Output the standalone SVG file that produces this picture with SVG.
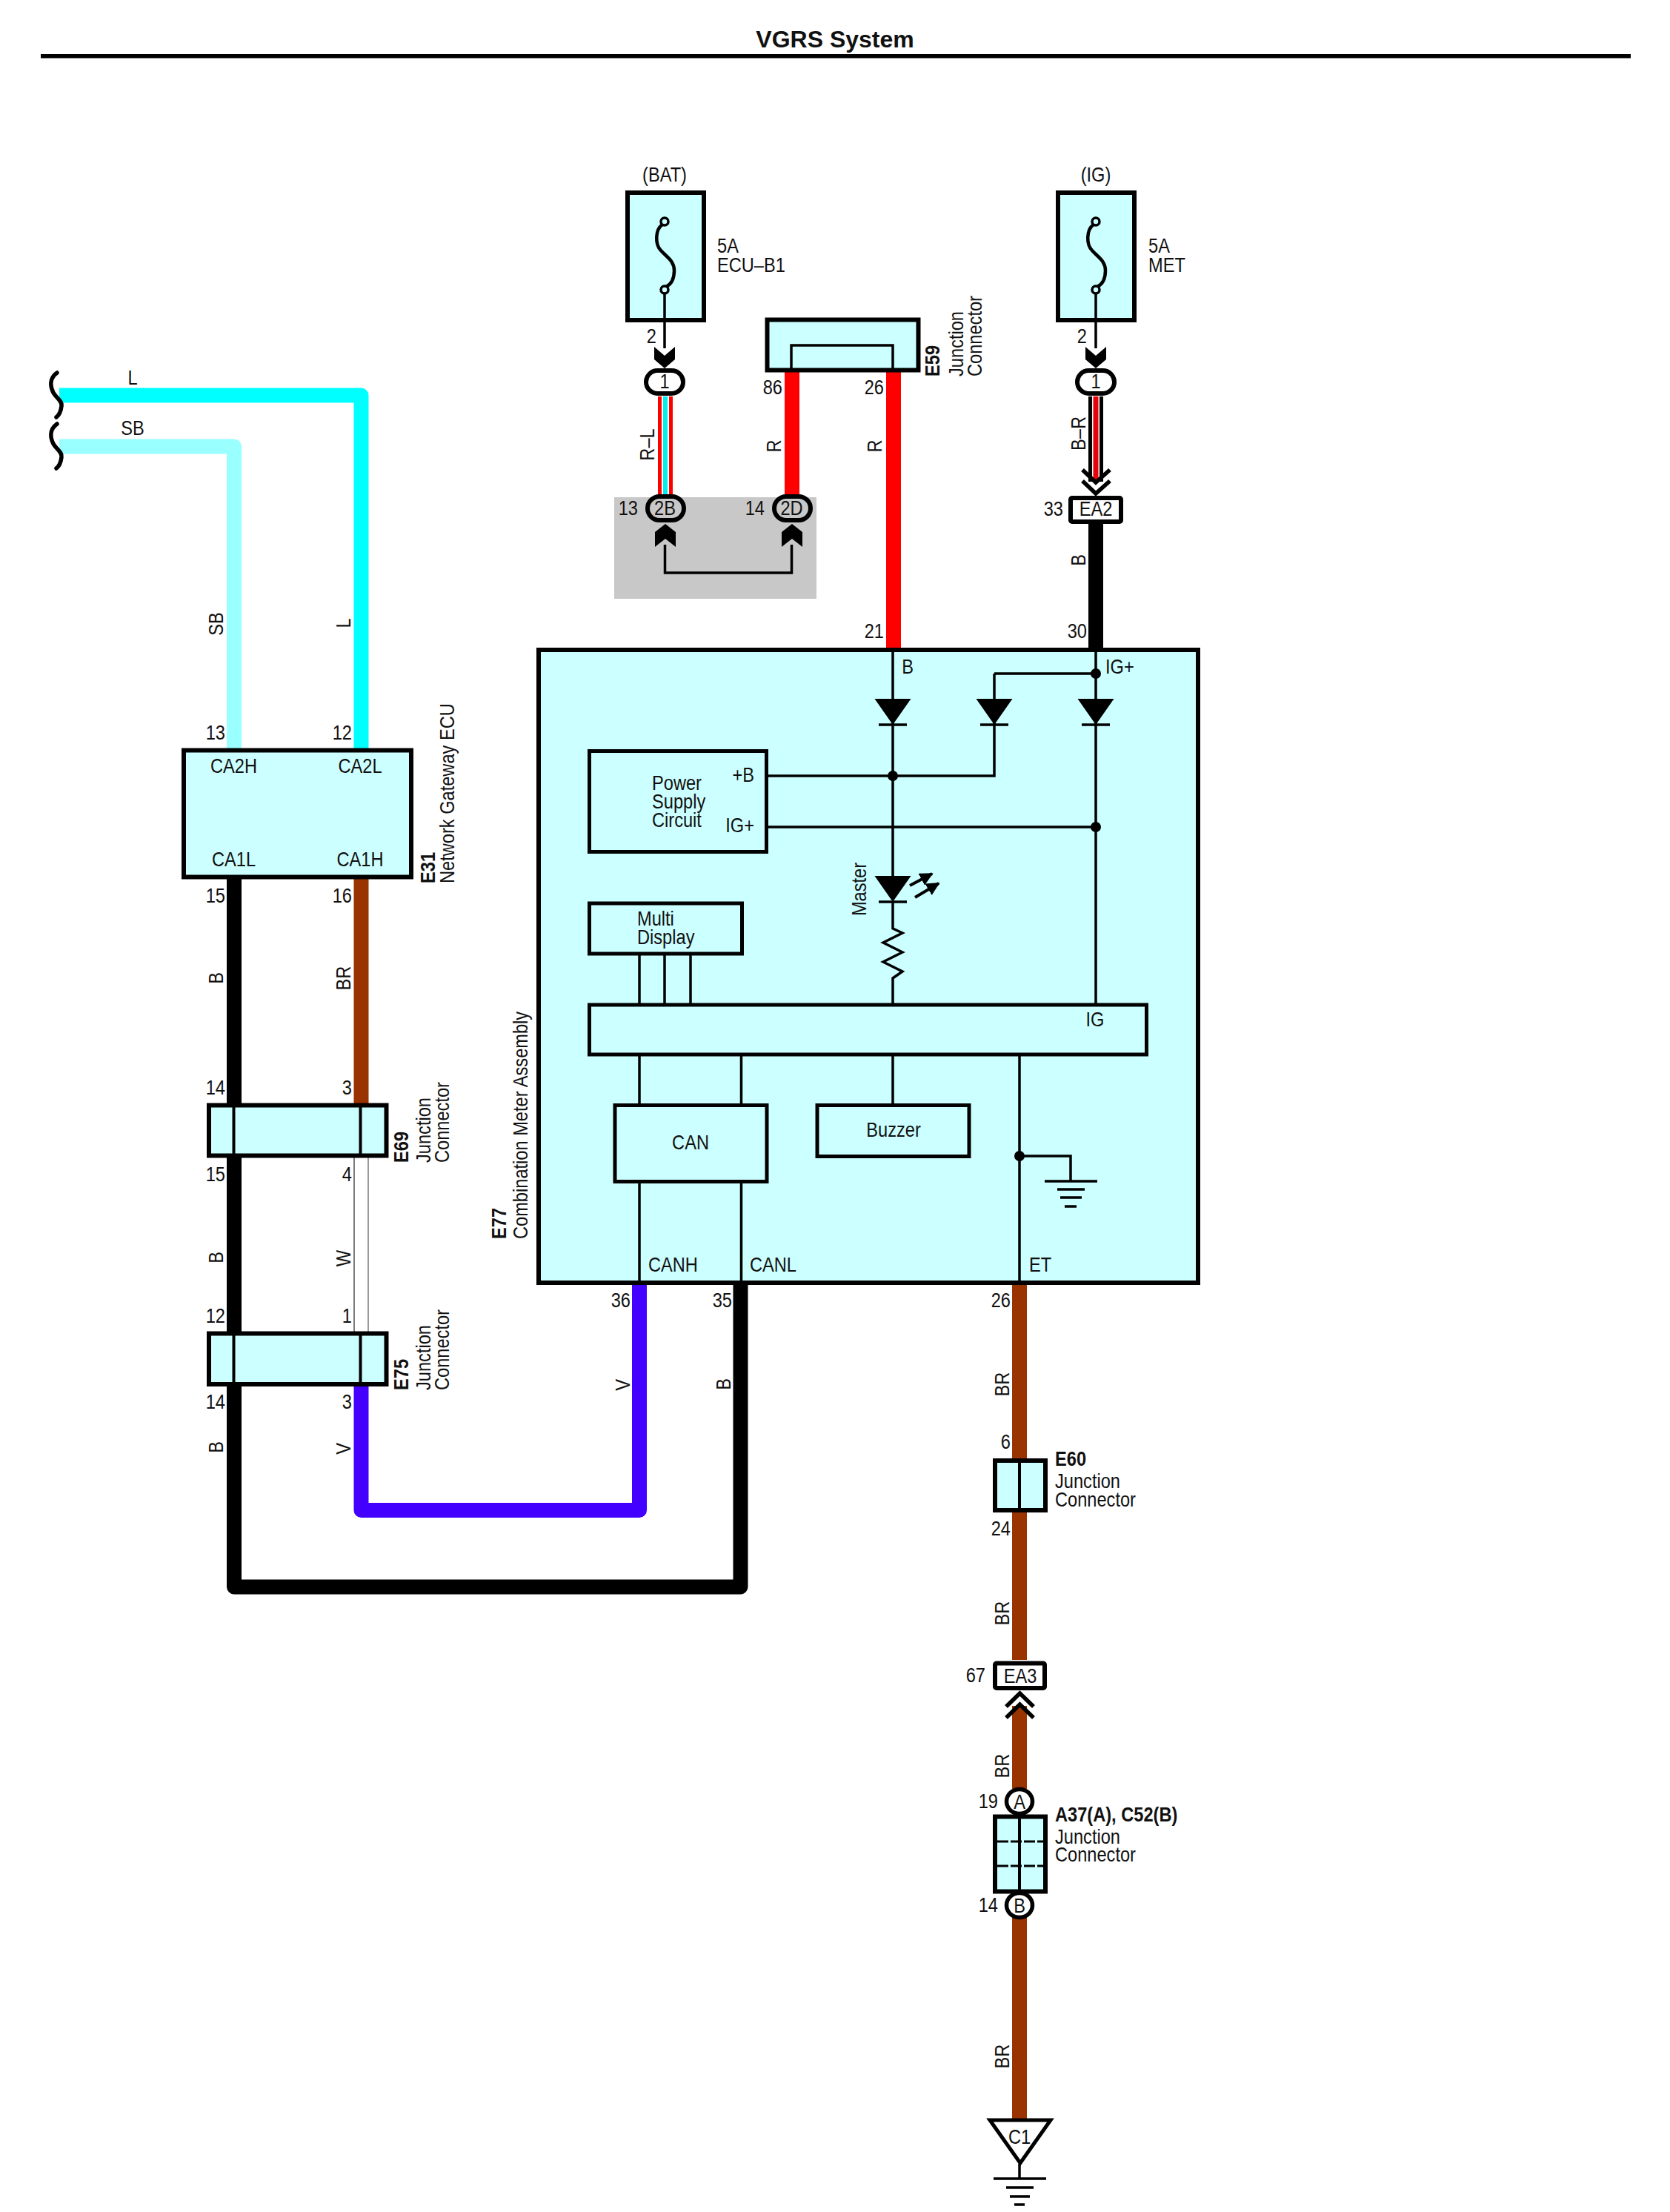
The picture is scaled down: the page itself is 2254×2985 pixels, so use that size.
<svg xmlns="http://www.w3.org/2000/svg" xmlns:xlink="http://www.w3.org/1999/xlink" width="2254" height="2985" viewBox="0 0 2254 2985">
<style>
text{font-family:"Liberation Sans",Arial,sans-serif;font-size:27px;fill:#111}
.b{font-weight:bold}
.m{text-anchor:middle}
.r{text-anchor:end}
.box{fill:#ccffff;stroke:#000;stroke-width:6}
.thin{fill:none;stroke:#000;stroke-width:3.5}
.w{fill:none;stroke-width:20;stroke-linejoin:round;stroke-linecap:butt}
.chev{fill:none;stroke:#000;stroke-width:5.5}
.dot{fill:#000}
</style>
<defs>
<g id="diode"><polygon points="-24.5,0 24.5,0 0,35" fill="#000"/><line x1="-19" y1="35" x2="19" y2="35" stroke="#000" stroke-width="3.5"/></g>
<path id="inhead" d="M-14 0L0 12L14 0V17L0 29L-14 17Z" fill="#000"/>
<path id="uphead" d="M-14 31L0 20L14 31V11L0 0L-14 11Z" fill="#000"/>
<g id="fuse">
<path d="M-3 4C-13 11-13 31-5 39C3 48 13 53 13 66C13 79 8 85 2 88" fill="none" stroke="#000" stroke-width="4.5"/>
<circle cx="0" cy="0" r="5" fill="#ccffff" stroke="#000" stroke-width="3.5"/>
<circle cx="0" cy="92" r="5" fill="#ccffff" stroke="#000" stroke-width="3.5"/>
</g>
<path id="brace" d="M77 503C66 511 68 522 72 530C77 538 84 541 83 548C82 556 80 560 76 563" fill="none" stroke="#000" stroke-width="5.5" stroke-linecap="round"/>
<marker id="ledhead" viewBox="0 0 10 10" refX="9" refY="5" markerWidth="4.5" markerHeight="4.5" orient="auto"><path d="M0 0L10 5L0 10Z" fill="#000"/></marker>
</defs>
<rect width="2254" height="2985" fill="#fff"/>

<g id="title">
<text class="b m" transform="translate(1127 64)" style="font-size:32px">VGRS System</text>
<rect x="55" y="73" width="2146" height="5.5" fill="#000"/>
</g>

<rect id="shade" x="829" y="671" width="273" height="137" fill="#c8c8c8"/>

<g id="connectors">
<path class="w" d="M80 533.5H487.5V1011" stroke="#00ffff"/>
<path class="w" d="M80 602.5H316V1011" stroke="#99ffff"/>
<path class="w" d="M316 1185V2141.5H999.5V1731" stroke="#000"/>
<path class="w" d="M487.5 1185V1491" stroke="#993300"/>
<line x1="478" y1="1560" x2="478" y2="1799" stroke="#222" stroke-width="1.2"/>
<line x1="497" y1="1560" x2="497" y2="1799" stroke="#777" stroke-width="1.5"/>
<path class="w" d="M487.5 1869V2038H863V1731" stroke="#4400ff"/>
<path class="w" d="M1069 500V671" stroke="#ff0000"/>
<path class="w" d="M1206 500V875" stroke="#ff0000"/>
<path class="w" d="M1479 705V875" stroke="#000"/>
<line x1="898" y1="535" x2="898" y2="670" stroke="#ff0000" stroke-width="20"/>
<line x1="898" y1="535" x2="898" y2="670" stroke="#fff" stroke-width="10"/>
<line x1="898" y1="535" x2="898" y2="670" stroke="#00eeee" stroke-width="6"/>
<line x1="1479" y1="535" x2="1479" y2="650" stroke="#000" stroke-width="20"/>
<line x1="1479" y1="535" x2="1479" y2="651" stroke="#fff" stroke-width="10"/>
<line x1="1479" y1="535" x2="1479" y2="651" stroke="#e8000a" stroke-width="7"/>
<path class="chev" d="M1461 634L1479 651L1498 634"/>
<path class="chev" d="M1461 649L1479 666L1498 649"/>
<path class="thin" d="M897 431V470"/>
<path class="thin" d="M1479 431V470"/>
<use href="#inhead" x="897" y="468"/>
<use href="#inhead" x="1479" y="468"/>
<path class="thin" d="M897.5 735V773H1068.5V735"/>
<use href="#uphead" x="898" y="707"/>
<use href="#uphead" x="1069" y="707"/>
<path class="w" d="M1376 1731V2240" stroke="#993300"/>
<path class="w" d="M1376 2302V2414" stroke="#993300"/>
<path class="w" d="M1376 2588V2860" stroke="#993300"/>
<path class="chev" d="M1358 2303L1376.5 2285L1395 2303"/>
<path class="chev" d="M1358 2318L1376.5 2300L1395 2318"/>
</g>

<g id="fuse-bat">
<rect class="box" x="847" y="260" width="103" height="172"/>
<use href="#fuse" x="897" y="299"/>
<path class="thin" d="M897 396V431"/>
<text class="m" transform="translate(897 245) scale(.875 1)">(BAT)</text>
<text transform="translate(968 341) scale(.875 1)">5A</text>
<text transform="translate(968 367) scale(.875 1)">ECU–B1</text>
<text class="r" transform="translate(886 463) scale(.875 1)">2</text>
</g>
<g id="fuse-ig">
<rect class="box" x="1428" y="260" width="103" height="172"/>
<use href="#fuse" x="1479" y="299"/>
<path class="thin" d="M1479 396V431"/>
<text class="m" transform="translate(1479 245) scale(.875 1)">(IG)</text>
<text transform="translate(1550 341) scale(.875 1)">5A</text>
<text transform="translate(1550 367) scale(.875 1)">MET</text>
<text class="r" transform="translate(1467 463) scale(.875 1)">2</text>
</g>
<g id="conn-1a">
<rect x="872" y="500" width="50" height="31" rx="15.5" fill="#fff" stroke="#000" stroke-width="6"/>
<text class="m" transform="translate(897 524) scale(.875 1)">1</text>
</g>
<g id="conn-1b">
<rect x="1454" y="500" width="50" height="31" rx="15.5" fill="#fff" stroke="#000" stroke-width="6"/>
<text class="m" transform="translate(1479 524) scale(.875 1)">1</text>
</g>
<g id="e59">
<rect class="box" x="1035.5" y="431.5" width="204" height="68"/>
<path class="thin" d="M1068 499V466H1205V499"/>
<text class="b" transform="translate(1268 508) rotate(-90) scale(.875 1)">E59</text>
<text transform="translate(1300 508) rotate(-90) scale(.875 1)">Junction</text>
<text transform="translate(1324.5 508) rotate(-90) scale(.875 1)">Connector</text>
<text class="r" transform="translate(1056 532) scale(.875 1)">86</text>
<text class="r" transform="translate(1193 532) scale(.875 1)">26</text>
</g>
<g id="conn-2b">
<rect x="874" y="670" width="49" height="32" rx="16" fill="#c8c8c8" stroke="#000" stroke-width="6"/>
<text class="m" transform="translate(897.5 695) scale(.875 1)">2B</text>
<text class="r" transform="translate(861 695) scale(.875 1)">13</text>
</g>
<g id="conn-2d">
<rect x="1045" y="670" width="49" height="32" rx="16" fill="#c8c8c8" stroke="#000" stroke-width="6"/>
<text class="m" transform="translate(1068.5 695) scale(.875 1)">2D</text>
<text class="r" transform="translate(1032 695) scale(.875 1)">14</text>
</g>
<g id="ea2">
<rect x="1445" y="672" width="68" height="32" fill="#fff" stroke="#000" stroke-width="6" rx="2"/>
<text class="m" transform="translate(1479 696) scale(.875 1)">EA2</text>
<text class="r" transform="translate(1435 696) scale(.875 1)">33</text>
</g>

<g id="wire-labels">
<text class="m" transform="translate(179 519) scale(.875 1)">L</text>
<text class="m" transform="translate(179 587) scale(.875 1)">SB</text>
<text class="m" transform="translate(301 842) rotate(-90) scale(.875 1)">SB</text>
<text class="m" transform="translate(473 841) rotate(-90) scale(.875 1)">L</text>
<text class="m" transform="translate(883 600) rotate(-90) scale(.875 1)">R–L</text>
<text class="m" transform="translate(1054 602) rotate(-90) scale(.875 1)">R</text>
<text class="m" transform="translate(1190 602) rotate(-90) scale(.875 1)">R</text>
<text class="m" transform="translate(1465 585) rotate(-90) scale(.875 1)">B–R</text>
<text class="m" transform="translate(1465 756) rotate(-90) scale(.875 1)">B</text>
<text class="r" transform="translate(1193 861) scale(.875 1)">21</text>
<text class="r" transform="translate(1467 861) scale(.875 1)">30</text>
<text class="r" transform="translate(304 998) scale(.875 1)">13</text>
<text class="r" transform="translate(475 998) scale(.875 1)">12</text>
<text class="r" transform="translate(304 1218) scale(.875 1)">15</text>
<text class="r" transform="translate(475 1218) scale(.875 1)">16</text>
<text class="m" transform="translate(301 1320) rotate(-90) scale(.875 1)">B</text>
<text class="m" transform="translate(473 1320) rotate(-90) scale(.875 1)">BR</text>
<text class="r" transform="translate(304 1477) scale(.875 1)">14</text>
<text class="r" transform="translate(475 1477) scale(.875 1)">3</text>
<text class="r" transform="translate(304 1594) scale(.875 1)">15</text>
<text class="r" transform="translate(475 1594) scale(.875 1)">4</text>
<text class="m" transform="translate(301 1697) rotate(-90) scale(.875 1)">B</text>
<text class="m" transform="translate(473 1698) rotate(-90) scale(.875 1)">W</text>
<text class="r" transform="translate(304 1785) scale(.875 1)">12</text>
<text class="r" transform="translate(475 1785) scale(.875 1)">1</text>
<text class="r" transform="translate(304 1901) scale(.875 1)">14</text>
<text class="r" transform="translate(475 1901) scale(.875 1)">3</text>
<text class="m" transform="translate(301 1953) rotate(-90) scale(.875 1)">B</text>
<text class="m" transform="translate(473 1955) rotate(-90) scale(.875 1)">V</text>
<text class="r" transform="translate(851 1764) scale(.875 1)">36</text>
<text class="r" transform="translate(988 1764) scale(.875 1)">35</text>
<text class="m" transform="translate(850 1869) rotate(-90) scale(.875 1)">V</text>
<text class="m" transform="translate(986 1868) rotate(-90) scale(.875 1)">B</text>
<text class="r" transform="translate(1364 1764) scale(.875 1)">26</text>
<text class="m" transform="translate(1362 1868) rotate(-90) scale(.875 1)">BR</text>
<text class="m" transform="translate(1362 2177) rotate(-90) scale(.875 1)">BR</text>
<text class="m" transform="translate(1362 2383) rotate(-90) scale(.875 1)">BR</text>
<text class="m" transform="translate(1362 2775) rotate(-90) scale(.875 1)">BR</text>
</g>

<g id="breaks">
<use href="#brace"/>
<use href="#brace" y="69"/>
</g>

<g id="e31">
<rect class="box" x="248" y="1012.5" width="307" height="171"/>
<text class="m" transform="translate(315.5 1043) scale(.875 1)">CA2H</text>
<text class="m" transform="translate(486 1043) scale(.875 1)">CA2L</text>
<text class="m" transform="translate(315.5 1169) scale(.875 1)">CA1L</text>
<text class="m" transform="translate(486 1169) scale(.875 1)">CA1H</text>
<text class="b" transform="translate(587 1192) rotate(-90) scale(.875 1)">E31</text>
<text transform="translate(613 1192) rotate(-90) scale(.875 1)">Network Gateway ECU</text>
</g>
<g id="e69">
<rect class="box" x="282" y="1491.5" width="239.5" height="68"/>
<path class="thin" style="stroke-width:4" d="M315.5 1492V1558M486.5 1492V1558"/>
<text class="b" transform="translate(551 1569) rotate(-90) scale(.875 1)">E69</text>
<text transform="translate(581 1569) rotate(-90) scale(.875 1)">Junction</text>
<text transform="translate(606 1569) rotate(-90) scale(.875 1)">Connector</text>
</g>
<g id="e75">
<rect class="box" x="282" y="1799.5" width="239.5" height="68.5"/>
<path class="thin" style="stroke-width:4" d="M315.5 1800V1867M486.5 1800V1867"/>
<text class="b" transform="translate(551 1876) rotate(-90) scale(.875 1)">E75</text>
<text transform="translate(581 1876) rotate(-90) scale(.875 1)">Junction</text>
<text transform="translate(606 1876) rotate(-90) scale(.875 1)">Connector</text>
</g>

<g id="e77">
<rect class="box" x="727" y="877" width="890" height="854"/>
<text class="b" transform="translate(683 1672) rotate(-90) scale(.875 1)">E77</text>
<text transform="translate(712 1672) rotate(-90) scale(.875 1)">Combination Meter Assembly</text>
<path class="thin" d="M1205 878V1190M1479 878V1355M1342 909H1479M1342 909V1047H1035M1035 1116H1479"/>
<path class="thin" d="M863 1287V1355M897 1287V1355M932 1287V1355M863 1423V1731M1000.5 1423V1731M1205 1423V1491M1376 1423V1731"/>
<use href="#diode" x="1205" y="943"/>
<use href="#diode" x="1342" y="943"/>
<use href="#diode" x="1479" y="943"/>
<circle class="dot" cx="1479" cy="909" r="7"/>
<circle class="dot" cx="1205" cy="1047" r="7"/>
<circle class="dot" cx="1479" cy="1116" r="7"/>
<text class="m" transform="translate(1225 909) scale(.875 1)">B</text>
<text transform="translate(1492 909) scale(.875 1)">IG+</text>
<g id="power-supply">
<rect class="box" style="stroke-width:5" x="795.5" y="1013.5" width="239" height="136"/>
<text transform="translate(880 1066) scale(.875 1)">Power</text>
<text transform="translate(880 1091) scale(.875 1)">Supply</text>
<text transform="translate(880 1116) scale(.875 1)">Circuit</text>
<text class="r" transform="translate(1018 1055) scale(.875 1)">+B</text>
<text class="r" transform="translate(1018 1123) scale(.875 1)">IG+</text>
</g>
<g id="master-led">
<use href="#diode" x="1205" y="1182"/>
<path class="thin" d="M1205 1217V1253L1218 1259L1192 1272L1218 1285L1192 1298L1218 1311L1205 1320V1355"/>
<path class="thin" style="stroke-width:4" marker-end="url(#ledhead)" d="M1228 1195L1258 1179"/>
<path class="thin" style="stroke-width:4" marker-end="url(#ledhead)" d="M1235 1211L1267 1192"/>
<text class="m" transform="translate(1169 1200) rotate(-90) scale(.875 1)">Master</text>
</g>
<g id="multi-display">
<rect class="box" style="stroke-width:5" x="795.5" y="1219" width="206" height="68"/>
<text transform="translate(860 1249) scale(.875 1)">Multi</text>
<text transform="translate(860 1274) scale(.875 1)">Display</text>
</g>
<g id="bus">
<rect class="box" style="stroke-width:5" x="795.5" y="1356" width="752" height="67"/>
<text class="m" transform="translate(1478 1385) scale(.875 1)">IG</text>
</g>
<g id="can">
<rect class="box" style="stroke-width:5" x="830" y="1491.5" width="205" height="103"/>
<text class="m" transform="translate(932 1551) scale(.875 1)">CAN</text>
</g>
<g id="buzzer">
<rect class="box" style="stroke-width:5" x="1103" y="1491.5" width="205" height="69"/>
<text class="m" transform="translate(1206 1534) scale(.875 1)">Buzzer</text>
</g>
<g id="ground-inner">
<circle class="dot" cx="1376" cy="1560" r="7"/>
<path class="thin" d="M1376 1560H1445V1594M1410 1594H1481M1427 1605H1464M1431 1616H1460M1437 1628H1453"/>
</g>
<text transform="translate(875 1716) scale(.875 1)">CANH</text>
<text transform="translate(1012 1716) scale(.875 1)">CANL</text>
<text transform="translate(1389 1716) scale(.875 1)">ET</text>
</g>

<g id="e60">
<rect class="box" x="1343" y="1971" width="68" height="67"/>
<path class="thin" style="stroke-width:4" d="M1376 1971V2038"/>
<text class="r" transform="translate(1364 1955) scale(.875 1)">6</text>
<text class="r" transform="translate(1364 2072) scale(.875 1)">24</text>
<text class="b" transform="translate(1424 1978) scale(.875 1)">E60</text>
<text transform="translate(1424 2008) scale(.875 1)">Junction</text>
<text transform="translate(1424 2033) scale(.875 1)">Connector</text>
</g>
<g id="ea3">
<rect x="1343" y="2244.5" width="67" height="33.5" rx="2" fill="#fff" stroke="#000" stroke-width="6"/>
<text class="m" transform="translate(1377 2271) scale(.875 1)">EA3</text>
<text class="r" transform="translate(1330 2270) scale(.875 1)">67</text>
</g>
<g id="a37">
<ellipse cx="1376" cy="2431" rx="17.5" ry="16.5" fill="#fff" stroke="#000" stroke-width="5.5"/>
<text class="m" transform="translate(1376 2441) scale(.875 1)">A</text>
<text class="r" transform="translate(1347 2440) scale(.875 1)">19</text>
<rect class="box" x="1343" y="2451.5" width="68" height="101"/>
<path class="thin" style="stroke-width:4" d="M1376 2452V2552"/>
<path fill="none" stroke="#000" stroke-width="3" stroke-dasharray="15 3" d="M1346 2485H1408M1346 2518H1408"/>
<ellipse cx="1376" cy="2571" rx="17.5" ry="16.5" fill="#fff" stroke="#000" stroke-width="5.5"/>
<text class="m" transform="translate(1376 2581) scale(.875 1)">B</text>
<text class="r" transform="translate(1347 2580) scale(.875 1)">14</text>
<text class="b" transform="translate(1424 2458) scale(.875 1)">A37(A), C52(B)</text>
<text transform="translate(1424 2488) scale(.875 1)">Junction</text>
<text transform="translate(1424 2512) scale(.875 1)">Connector</text>
</g>
<g id="c1">
<polygon points="1336,2861 1418,2861 1377,2919" fill="#fff" stroke="#000" stroke-width="5"/>
<text class="m" transform="translate(1376 2893) scale(.875 1)">C1</text>
<path class="thin" d="M1376 2920V2940M1341 2940H1412M1358 2952H1395M1363 2964H1390M1369 2975H1383"/>
</g>
</svg>
